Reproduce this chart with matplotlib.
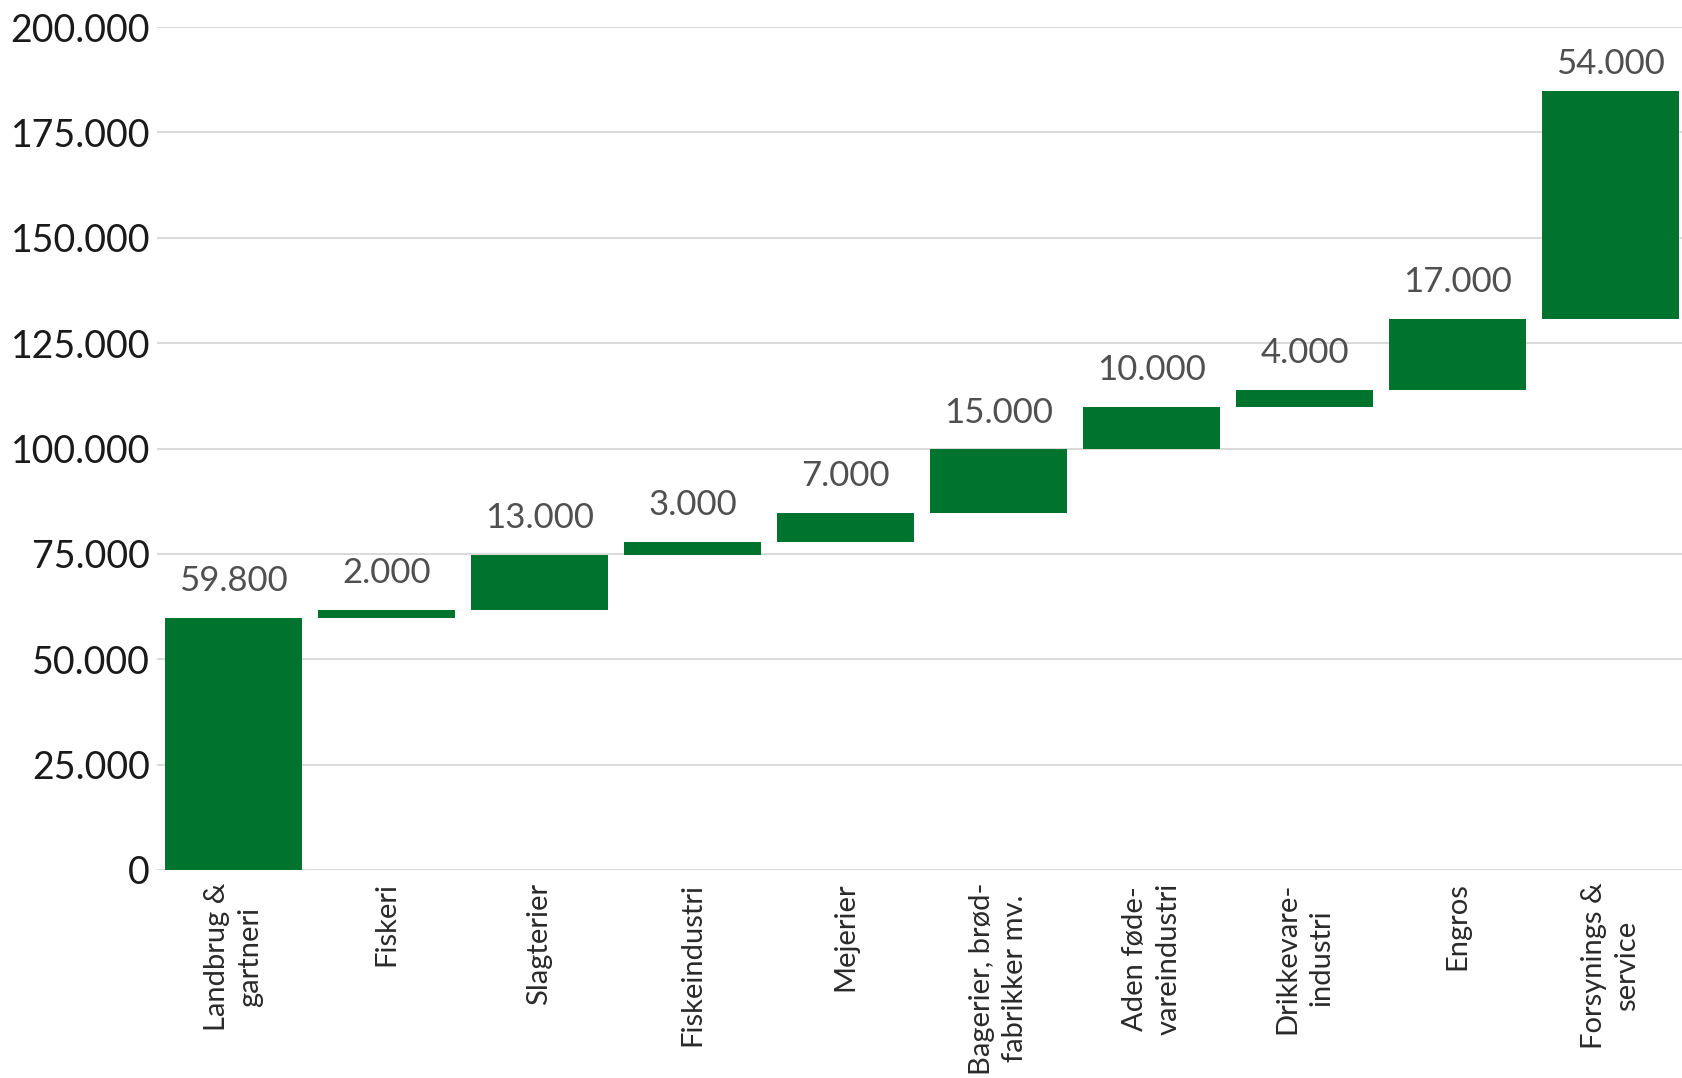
import matplotlib

matplotlib.use("Agg")
import matplotlib.pyplot as plt
from matplotlib.ticker import FuncFormatter

# waterfall data
categories = [
    "Landbrug &\ngartneri",
    "Fiskeri",
    "Slagterier",
    "Fiskeindustri",
    "Mejerier",
    "Bagerier, brød-\nfabrikker mv.",
    "Aden føde-\nvareindustri",
    "Drikkevare-\nindustri",
    "Engros",
    "Forsynings &\nservice",
]
values = [59800, 2000, 13000, 3000, 7000, 15000, 10000, 4000, 17000, 54000]
value_labels = ["59.800", "2.000", "13.000", "3.000", "7.000",
                "15.000", "10.000", "4.000", "17.000", "54.000"]
yticks = [0, 25000, 50000, 75000, 100000, 125000, 150000, 175000, 200000]

GREEN = "#00732f"
YMAX = 200000
plt.rcParams["font.family"] = ["Lato", "DejaVu Sans"]

fig = plt.figure(figsize=(16.83, 10.78), dpi=100)
ax = fig.add_axes([157 / 1683, 208 / 1078, 1530 / 1683, 843 / 1078])

bottoms = []
running = 0
for v in values:
    bottoms.append(running)
    running += v

x = list(range(len(values)))
ax.bar(x, values, bottom=bottoms, width=0.895, color=GREEN, zorder=3)

for xi, b, v, lab in zip(x, bottoms, values, value_labels):
    top = b + v
    # labels near the top of the plot get squeezed closer to the bar
    off = 15 if top < 0.85 * YMAX else 8
    ax.annotate(lab, (xi, top), xytext=(0, off), textcoords="offset points",
                ha="center", va="bottom", fontsize=25, color="#505050")

ax.set_xlim(-0.5, len(values) - 0.5)
ax.set_ylim(0, YMAX)
ax.set_yticks(yticks)
ax.yaxis.set_major_formatter(FuncFormatter(lambda v, _: f"{int(v):,}".replace(",", ".")))
ax.tick_params(axis="y", length=0, pad=5, labelsize=27, labelcolor="#1a1a1a")
ax.set_xticks(x)
ax.set_xticklabels(categories, rotation=90, ha="center", va="top",
                   multialignment="center", linespacing=1.35,
                   fontsize=21, color="#2a2a2a")
ax.tick_params(axis="x", length=0, pad=9)

ax.grid(axis="y", color="#cfcfcf", linewidth=1.1, zorder=0)
ax.set_axisbelow(True)
for s in ax.spines.values():
    s.set_visible(False)

fig.savefig("out.png", dpi=100)
plt.close(fig)
